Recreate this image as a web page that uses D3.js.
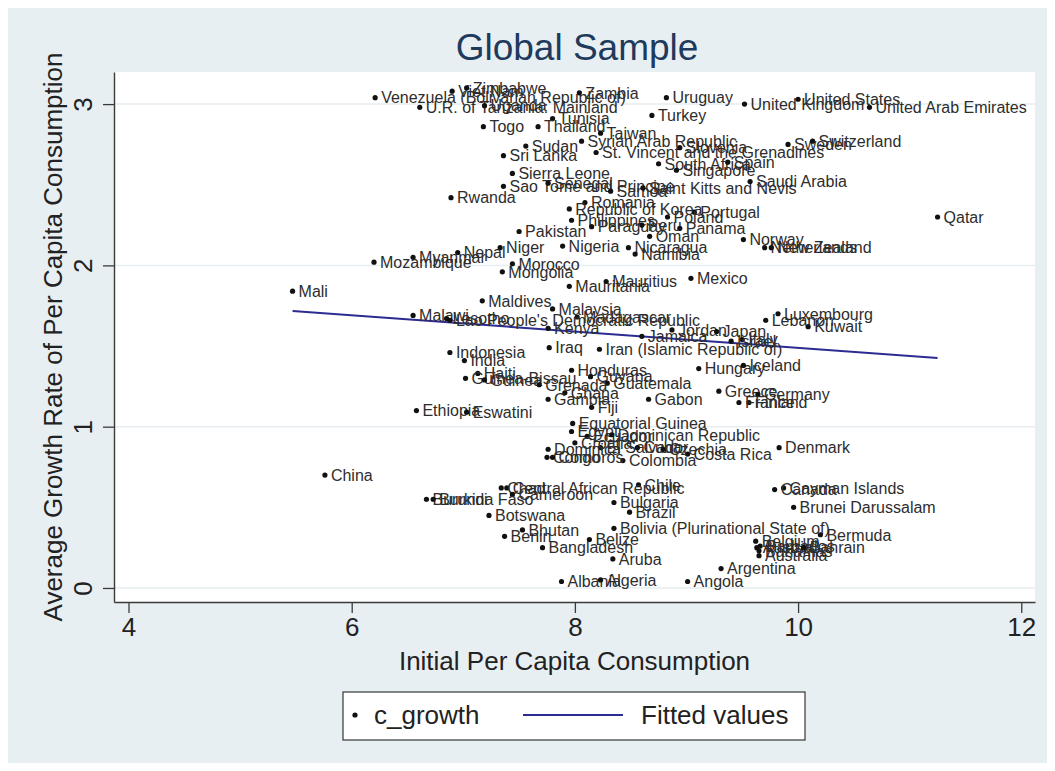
<!DOCTYPE html>
<html>
<head>
<meta charset="utf-8">
<script src="https://cdn.jsdelivr.net/npm/d3@7"></script>
<style>
  body { margin: 0; background: #fff; }
  text { font-family: "Liberation Sans", Arial, sans-serif; }
</style>
</head>
<body>
<svg></svg>
<script>
// data (approximate)
const countries = [
  'Venezuela (Bolivarian Republic of)', 'Viet Nam', 'Zimbabwe', 'U.R. of Tanzania: Mainland', 'Uganda',
  'Zambia', 'Uruguay', 'Turkey', 'Tunisia', 'Togo', 'Thailand', 'Taiwan', 'Syrian Arab Republic',
  'Sudan', 'Sri Lanka', 'St. Vincent and the Grenadines', 'Slovenia', 'Sweden', 'Switzerland',
  'South Africa', 'Singapore', 'Spain', 'Sierra Leone', 'Sao Tome and Principe', 'Rwanda', 'Senegal',
  'Samoa', 'Saint Kitts and Nevis', 'Saudi Arabia', 'Romania', 'Republic of Korea', 'Portugal',
  'Poland', 'Philippines', 'Paraguay', 'Peru', 'Panama', 'Oman', 'Pakistan', 'Niger', 'Nigeria',
  'Nicaragua', 'Namibia', 'Nepal', 'Myanmar', 'Mozambique', 'Morocco', 'Mongolia', 'Mali',
  'Mauritius', 'Mauritania', 'Mexico', 'Maldives', 'Malaysia', 'Madagascar', 'Malawi', 'Lesotho',
  "Lao People's Democratic Republic", 'Kenya', 'Jamaica', 'Jordan', 'Japan', 'Italy', 'Israel',
  'Luxembourg', 'Lebanon', 'Kuwait', 'Iraq', 'Iran (Islamic Republic of)', 'Indonesia', 'India',
  'Hungary', 'Iceland', 'Haiti', 'Guinea-Bissau', 'Guinea', 'Honduras', 'Guyana', 'Guatemala',
  'Grenada', 'Ghana', 'Gambia', 'Fiji', 'Gabon', 'Greece', 'Germany', 'Finland', 'France',
  'Ethiopia', 'Eswatini', 'Equatorial Guinea', 'Egypt', 'Ecuador', 'Dominican Republic',
  'El Salvador', 'Croatia', 'Dominica', 'Cuba', 'Czechia', 'Costa Rica', 'Colombia', 'Congo',
  'Comoros', 'China', 'Chile', 'Central African Republic', 'Chad', 'Cameroon', 'Burundi',
  'Burkina Faso', 'Bulgaria', 'Brazil', 'Botswana', 'Bhutan', 'Benin',
  'Bolivia (Plurinational State of)', 'Belize', 'Bangladesh', 'Aruba', 'Albania', 'Algeria',
  'Angola', 'Argentina', 'Denmark', 'Cayman Islands', 'Canada', 'Brunei Darussalam', 'Bermuda',
  'Belgium', 'Austria', 'Bahamas', 'Barbados', 'Australia', 'Bahrain', 'United Kingdom',
  'United States', 'United Arab Emirates', 'Qatar', 'Norway', 'Netherlands', 'New Zealand'
];
const initCons = [
  6.21, 6.90, 7.03, 6.61, 7.19,
  8.04, 8.82, 8.69, 7.80, 7.18, 7.67, 8.23, 8.06,
  7.56, 7.36, 8.19, 8.94, 9.91, 10.13,
  8.75, 8.91, 9.37, 7.44, 7.36, 6.89, 7.76,
  8.32, 8.61, 9.57, 8.09, 7.95, 9.07,
  8.83, 7.97, 8.15, 8.60, 8.94, 8.67, 7.50, 7.33, 7.89,
  8.48, 8.54, 6.95, 6.55, 6.20, 7.44, 7.35, 5.47,
  8.28, 7.95, 9.04, 7.17, 7.80, 8.02, 6.55, 6.85,
  6.88, 7.76, 8.60, 8.87, 9.27, 9.50, 9.40,
  9.82, 9.71, 10.09, 7.77, 8.22, 6.88, 7.01,
  9.11, 9.51, 7.13, 7.02, 7.19, 7.97, 8.14, 8.29,
  7.68, 7.91, 7.76, 8.15, 8.66, 9.29, 9.64, 9.56, 9.47,
  6.58, 7.03, 7.98, 7.97, 8.11, 8.33,
  8.23, 8.00, 7.76, 8.56, 8.79, 9.01, 8.43, 7.75,
  7.80, 5.76, 8.57, 7.39, 7.34, 7.44, 6.67,
  6.73, 8.35, 8.49, 7.23, 7.53, 7.37,
  8.35, 8.13, 7.71, 8.34, 7.88, 8.23,
  9.01, 9.31, 9.83, 9.87, 9.79, 9.96, 10.20,
  9.62, 9.63, 9.65, 9.66, 9.65, 10.05, 9.52,
  10.00, 10.64, 11.25, 9.51, 9.70, 9.76
];
const cGrowth = [
  3.04, 3.08, 3.10, 2.98, 2.99,
  3.07, 3.04, 2.93, 2.91, 2.86, 2.86, 2.82, 2.77,
  2.74, 2.68, 2.70, 2.73, 2.75, 2.77,
  2.63, 2.59, 2.64, 2.57, 2.49, 2.42, 2.51,
  2.46, 2.48, 2.52, 2.39, 2.35, 2.33,
  2.30, 2.28, 2.24, 2.25, 2.23, 2.18, 2.21, 2.11, 2.12,
  2.11, 2.07, 2.08, 2.05, 2.02, 2.01, 1.96, 1.84,
  1.90, 1.87, 1.92, 1.78, 1.73, 1.68, 1.69, 1.67,
  1.66, 1.61, 1.56, 1.60, 1.59, 1.54, 1.53,
  1.70, 1.66, 1.62, 1.49, 1.48, 1.46, 1.41,
  1.36, 1.38, 1.33, 1.30, 1.29, 1.35, 1.31, 1.27,
  1.26, 1.21, 1.17, 1.12, 1.17, 1.22, 1.20, 1.15, 1.15,
  1.10, 1.09, 1.02, 0.97, 0.94, 0.95,
  0.87, 0.90, 0.86, 0.87, 0.86, 0.83, 0.79, 0.81,
  0.81, 0.70, 0.64, 0.62, 0.62, 0.58, 0.55,
  0.55, 0.53, 0.47, 0.45, 0.36, 0.32,
  0.37, 0.30, 0.25, 0.18, 0.04, 0.05,
  0.04, 0.12, 0.87, 0.62, 0.61, 0.50, 0.33,
  0.29, 0.25, 0.23, 0.26, 0.20, 0.25, 3.00,
  3.03, 2.98, 2.30, 2.16, 2.11, 2.11
];
// fitted values at the smallest and largest x
const fittedX = [5.47, 11.25];
const fittedY = [1.717, 1.426];

const xTicks = [4, 6, 8, 10, 12];
const yTicks = [0, 1, 2, 3];

const [width, height] = [1055, 771];
const plot = {left: 114, right: 1035, top: 72, bottom: 602};
const font = '"Liberation Sans", Arial, sans-serif';
const lineColor = '#2b2b92';

const svg = d3.select('svg')
  .attr('width', width)
  .attr('height', height);

// graph region and plot region
svg.append('rect')
  .attr('width', width).attr('height', height)
  .attr('fill', '#fff');
svg.append('rect')
  .attr('x', 8).attr('y', 8)
  .attr('width', 1039).attr('height', 755)
  .attr('fill', '#e8eff2');
svg.append('rect')
  .attr('x', plot.left).attr('y', plot.top)
  .attr('width', plot.right - plot.left).attr('height', plot.bottom - plot.top)
  .attr('fill', '#fff');

const x = d3.scaleLinear()
  .domain([3.87, 12.123])
  .range([plot.left, plot.right]);
const y = d3.scaleLinear()
  .domain([-0.087, 3.199])
  .range([plot.bottom, plot.top]);

svg.append('g')
  .selectAll('line')
  .data(yTicks)
  .join('line')
  .attr('x1', plot.left).attr('x2', plot.right)
  .attr('y1', d => y(d)).attr('y2', d => y(d))
  .attr('stroke', '#e6eef1')
  .attr('stroke-width', 1.5);

const xAxis = svg.append('g')
  .attr('transform', `translate(0, ${plot.bottom})`)
  .call(d3.axisBottom(x).tickValues(xTicks).tickFormat(d3.format('d'))
    .tickSize(11).tickSizeOuter(0).tickPadding(5));
const yAxis = svg.append('g')
  .attr('transform', `translate(${plot.left}, 0)`)
  .call(d3.axisLeft(y).tickValues(yTicks).tickFormat(d3.format('d'))
    .tickSize(11).tickSizeOuter(0));

[xAxis, yAxis].forEach(g => {
  g.attr('font-family', font).attr('font-size', 26);
  g.select('.domain').attr('stroke', '#3a3a3a').attr('stroke-width', 1.4);
  g.selectAll('.tick line').attr('stroke', '#3a3a3a').attr('stroke-width', 1.3);
  g.selectAll('.tick text').attr('fill', '#222');
});
yAxis.selectAll('.tick text')
  .attr('transform', 'rotate(-90)')
  .attr('x', 0)
  .attr('y', -22)
  .attr('dy', 0)
  .attr('text-anchor', 'middle');

// fitted line
svg.append('path')
  .datum(fittedX.map((d, i) => [d, fittedY[i]]))
  .attr('fill', 'none')
  .attr('stroke', lineColor)
  .attr('stroke-width', 2)
  .attr('d', d3.line().x(d => x(d[0])).y(d => y(d[1])));

// points + marker labels
const pts = svg.append('g')
  .selectAll('g')
  .data(countries.map((c, i) => ({name: c, cons: initCons[i], g: cGrowth[i]})))
  .join('g')
  .attr('transform', d => `translate(${x(d.cons)}, ${y(d.g)})`);
pts.append('circle')
  .attr('r', 2.6)
  .attr('fill', '#111');
pts.append('text')
  .attr('x', 6)
  .attr('dy', '0.36em')
  .attr('font-size', 16)
  .attr('fill', '#2d2d2d')
  .text(d => d.name);

// titles
svg.append('text')
  .attr('x', 577).attr('y', 60)
  .attr('text-anchor', 'middle')
  .attr('font-size', 37)
  .attr('fill', '#1e3a5c')
  .text('Global Sample');
svg.append('text')
  .attr('x', (plot.left + plot.right) / 2).attr('y', 670)
  .attr('text-anchor', 'middle')
  .attr('font-size', 26)
  .attr('fill', '#222')
  .text('Initial Per Capita Consumption');
svg.append('text')
  .attr('transform', `translate(62, ${(plot.top + plot.bottom) / 2}) rotate(-90)`)
  .attr('text-anchor', 'middle')
  .attr('font-size', 26)
  .attr('fill', '#222')
  .text('Average Growth Rate of Per Capita Consumption');

// legend
const legend = svg.append('g');
legend.append('rect')
  .attr('x', 343).attr('y', 692)
  .attr('width', 462).attr('height', 48)
  .attr('fill', '#fff')
  .attr('stroke', '#444')
  .attr('stroke-width', 1.3);
legend.append('circle')
  .attr('cx', 355).attr('cy', 715).attr('r', 2.6)
  .attr('fill', '#111');
legend.append('text')
  .attr('x', 374).attr('y', 724)
  .attr('font-size', 26).attr('fill', '#222')
  .text('c_growth');
legend.append('line')
  .attr('x1', 523).attr('x2', 623)
  .attr('y1', 715).attr('y2', 715)
  .attr('stroke', lineColor)
  .attr('stroke-width', 2);
legend.append('text')
  .attr('x', 641).attr('y', 724)
  .attr('font-size', 26).attr('fill', '#222')
  .text('Fitted values');
</script>
</body>
</html>
